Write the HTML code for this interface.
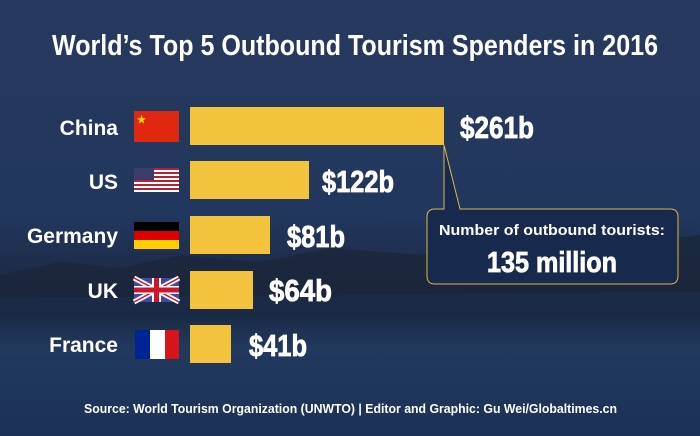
<!DOCTYPE html>
<html><head><meta charset="utf-8"><style>
html,body{margin:0;padding:0;width:700px;height:436px;overflow:hidden;background:#1e3257}
svg{display:block}
text{font-family:"Liberation Sans",sans-serif;font-weight:bold;fill:#fff}
</style></head><body>
<svg width="700" height="436" viewBox="0 0 700 436">
<defs>
<linearGradient id="bg" x1="0" y1="0" x2="0" y2="1">
<stop offset="0" stop-color="#27395e"/>
<stop offset="0.5" stop-color="#22375e"/>
<stop offset="0.62" stop-color="#1d2c48"/>
<stop offset="0.72" stop-color="#1a2a45"/>
<stop offset="0.8" stop-color="#22395e"/>
<stop offset="1" stop-color="#1b3156"/>
</linearGradient>
</defs>
<rect width="700" height="436" fill="url(#bg)"/>
<path d="M0 275 L60 262 L120 268 L180 255 L260 262 L330 248 L420 255 L500 240 L600 246 L700 235 L700 292 L0 298 Z" fill="#1a2538" opacity="0.7"/>
<text x="52" y="55" font-size="29" textLength="606" lengthAdjust="spacingAndGlyphs">World’s Top 5 Outbound Tourism Spenders in 2016</text>

<g font-size="21">
<text x="118" y="135" text-anchor="end">China</text>
<text x="118" y="189" text-anchor="end">US</text>
<text x="118" y="243" text-anchor="end">Germany</text>
<text x="118" y="298" text-anchor="end">UK</text>
<text x="118" y="352" text-anchor="end">France</text>
</g>

<rect x="134" y="111" width="45" height="31" fill="#de2910"/>
<text x="137" y="123" font-size="10" style="fill:#ffde00">★</text>
<rect x="134" y="168" width="45" height="24" fill="#fff"/>
<g fill="#b22234"><rect x="134" y="168" width="45" height="2"/><rect x="134" y="172" width="45" height="2"/><rect x="134" y="176" width="45" height="2"/><rect x="134" y="180" width="45" height="2"/><rect x="134" y="184" width="45" height="2"/><rect x="134" y="188" width="45" height="2"/></g>
<rect x="134" y="168" width="20" height="12" fill="#3c3b6e"/>
<rect x="134" y="222" width="45" height="9" fill="#000"/>
<rect x="134" y="231" width="45" height="9" fill="#dd0000"/>
<rect x="134" y="240" width="45" height="9" fill="#ffce00"/>
<rect x="134" y="278" width="45" height="24" fill="#3f4aa0"/>
<path d="M134 278 L179 302 M179 278 L134 302" stroke="#fff" stroke-width="5"/>
<path d="M134 278 L179 302 M179 278 L134 302" stroke="#cf142b" stroke-width="1.5"/>
<rect x="152" y="278" width="9" height="24" fill="#fff"/>
<rect x="134" y="286" width="45" height="8" fill="#fff"/>
<rect x="154" y="278" width="5" height="24" fill="#cf142b"/>
<rect x="134" y="287.5" width="45" height="5" fill="#cf142b"/>
<rect x="135" y="330" width="15" height="29" fill="#002395"/>
<rect x="150" y="330" width="15" height="29" fill="#fff"/>
<rect x="165" y="330" width="14" height="29" fill="#d7141a"/>

<g fill="#f3c33e">
<rect x="190" y="107" width="254" height="38"/>
<rect x="190" y="161" width="119" height="38"/>
<rect x="190" y="216" width="80" height="38"/>
<rect x="190" y="271" width="63" height="38"/>
<rect x="190" y="325" width="41" height="38"/>
</g>
<g font-size="31" stroke="#fff" stroke-width="0.8">
<text x="460" y="138" textLength="74" lengthAdjust="spacingAndGlyphs">$261b</text>
<text x="322" y="192" textLength="72" lengthAdjust="spacingAndGlyphs">$122b</text>
<text x="287" y="247" textLength="58" lengthAdjust="spacingAndGlyphs">$81b</text>
<text x="269" y="301" textLength="63" lengthAdjust="spacingAndGlyphs">$64b</text>
<text x="249" y="356" textLength="58" lengthAdjust="spacingAndGlyphs">$41b</text>
</g>

<path d="M437 209 L444 209 L444 145 L460 209 L670 209 Q678 209 678 217 L678 276 Q678 284 670 284 L435 284 Q427 284 427 276 L427 217 Q427 209 435 209 Z" fill="#172a4e" stroke="#d9b84a" stroke-width="1"/>
<text x="552" y="235" font-size="15" text-anchor="middle" textLength="226" lengthAdjust="spacingAndGlyphs">Number of outbound tourists:</text>
<text x="552" y="272" font-size="29" text-anchor="middle" textLength="130" lengthAdjust="spacingAndGlyphs" stroke="#fff" stroke-width="0.8">135 million</text>

<text x="84" y="413" font-size="13" textLength="533" lengthAdjust="spacingAndGlyphs">Source: World Tourism Organization (UNWTO) | Editor and Graphic: Gu Wei/Globaltimes.cn</text>
</svg>
</body></html>
